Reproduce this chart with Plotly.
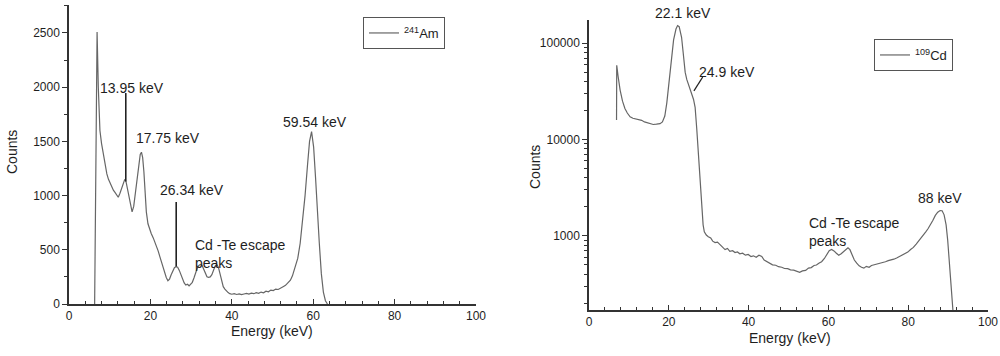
import math
import plotly.graph_objects as go

# ---------------- data ----------------
# 241Am spectrum (left)
am_energy = [6.3, 6.6, 6.9, 7.2, 7.6, 8.0, 8.4, 8.8, 9.3, 9.7, 10.1, 10.5, 10.9, 11.3, 11.7, 12.1,
             12.5, 12.9, 13.3, 13.7, 14.0, 14.3, 14.7, 15.1, 15.5, 15.9, 16.3, 16.7, 17.1, 17.5, 17.8,
             18.1, 18.4, 18.7, 19.0, 19.4, 19.8, 20.2, 20.7, 21.1, 21.5, 21.9, 22.3, 22.7, 23.1, 23.5,
             23.9, 24.3, 24.7, 25.1, 25.5, 25.9, 26.3, 26.7, 27.1, 27.5, 27.9, 28.3, 28.7, 29.1, 29.5,
             29.9, 30.3, 30.7, 31.1, 31.5, 31.9, 32.3, 32.7, 33.1, 33.5, 33.9, 34.3, 34.7, 35.1, 35.5,
             35.9, 36.3, 36.7, 37.1, 37.5, 37.9, 38.3, 38.7, 39.1, 39.5, 40.0, 40.6, 41.2, 41.8, 42.4,
             43.0, 43.6, 44.2, 44.8, 45.4, 46.0, 46.6, 47.2, 47.8, 48.4, 49.0, 49.6, 50.2, 50.8, 51.4,
             52.0, 52.6, 53.2, 53.8, 54.4, 54.9, 55.5, 56.2, 56.8, 57.4, 58.0, 58.6, 59.1, 59.6, 60.1,
             60.6, 61.0, 61.5, 62.0, 62.5, 63.0, 63.5]
am_counts = [0, 1500, 2510, 2000, 1600, 1480, 1390, 1300, 1200, 1150, 1110, 1085, 1050, 1030, 1000, 985,
             1020, 1070, 1120, 1150, 1130, 1070, 980, 900, 850, 900, 1030, 1180, 1300, 1380, 1400,
             1350, 1220, 1030, 850, 740, 690, 650, 610, 575, 540, 490, 440, 385, 335, 285,
             245, 215, 230, 270, 310, 335, 345, 340, 310, 270, 225, 195, 175, 182, 168,
             180, 200, 240, 290, 330, 355, 365, 355, 320, 280, 252, 245, 250, 270, 310,
             350, 365, 340, 280, 210, 160, 138, 120, 105, 95, 90, 96, 88, 94, 86,
             92, 98, 92, 100, 95, 104, 98, 110, 104, 118, 112, 128, 124, 138, 134,
             150, 160, 172, 195, 220, 260, 330, 420, 560, 760, 1000, 1280, 1500, 1590, 1450,
             1150, 850, 560, 280, 110, 30, 0]

# 109Cd spectrum (right)
cd_energy = [6.9, 6.95, 7.3, 7.8, 8.4, 9.0, 9.6, 10.3, 11.0, 11.9, 12.6, 13.2, 13.9, 14.5, 15.3, 16.1,
             16.9, 17.8, 18.4, 19.0, 19.5, 19.9, 20.3, 20.7, 21.2, 21.8, 22.2, 22.6, 23.2, 23.6, 24.1,
             24.5, 24.9, 25.3, 25.7, 26.2, 26.6, 27.0, 27.4, 27.9, 28.3, 28.6, 28.9, 29.4, 29.9, 30.5,
             31.0, 31.6, 32.2, 32.8, 33.4, 34.1, 34.7, 35.3, 36.0, 36.6, 37.2, 37.8, 38.5, 39.2, 39.9,
             40.6, 41.2, 41.9, 42.6, 43.3, 43.9, 44.6, 45.3, 46.0, 46.8, 47.5, 48.3, 49.0, 49.8, 50.5,
             51.3, 52.0, 52.8, 53.5, 54.3, 55.0, 55.7, 56.4, 57.0, 57.7, 58.3, 59.0, 59.6, 60.2, 60.8,
             61.4, 62.0, 62.6, 63.2, 63.8, 64.4, 64.9, 65.4, 65.9, 66.5, 67.1, 67.7, 68.3, 68.9, 69.5,
             70.2, 70.8, 71.5, 72.2, 72.9, 73.6, 74.3, 75.0, 75.7, 76.4, 77.1, 77.8, 78.5, 79.2, 79.9,
             80.6, 81.3, 82.0, 82.6, 83.2, 83.8, 84.4, 85.0, 85.6, 86.2, 86.8, 87.4, 88.0, 88.5, 89.0,
             89.5, 89.9, 90.3, 90.7, 91.0, 91.3]
cd_counts = [15900, 59000, 45000, 32600, 25000, 21000, 18800, 17200, 16600, 16200, 16000, 15800, 15200,
             14900, 14500, 14300, 14400, 14600, 15200, 17500, 24000, 35000, 55000, 78000, 108000, 140000,
             152000, 148000, 115000, 80000, 50000, 42000, 38000, 34000, 30000, 26000, 21500, 13000, 7200,
             3800, 2000, 1300, 1100, 1020, 980, 950, 880, 850, 860, 810, 780, 720, 740, 690, 700, 670, 680,
             650, 660, 630, 640, 610, 620, 600, 630, 610, 560, 540, 525, 500, 495, 478, 472, 458, 456, 443,
             440, 428, 418, 432, 438, 462, 468, 492, 498, 522, 538, 582, 640, 700, 722, 698, 660, 628, 652,
             690, 732, 752, 718, 640, 560, 520, 488, 472, 462, 482, 472, 492, 500, 508, 518, 532, 538, 552,
             558, 572, 588, 612, 628, 652, 678, 722, 758, 822, 878, 942, 1010, 1100, 1190, 1300, 1450, 1630,
             1760, 1830, 1820, 1650, 1300, 900, 550, 330, 200, 150]

# peak labels
am_labels = ["13.95 keV", "17.75 keV", "26.34 keV", "59.54 keV", "Cd -Te escape<br>peaks"]
am_label_x = [15.5, 24.3, 30.2, 60.4, 30.5]
am_label_y = [1993, 1531, 1052, 1679, 461]
am_label_anchor = ["center", "center", "center", "center", "left"]
am_leader_x = [[13.95, 13.95], [26.34, 26.34]]
am_leader_y = [[1946, 1130], [941, 345]]

cd_labels = ["24.9 keV", "88 keV", "Cd -Te escape<br>peaks"]
cd_label_x = [34.6, 88.0, 54.6]
cd_label_y = [50000, 2480, 1090]
cd_label_anchor = ["center", "center", "left"]
cd_top_label = "22.1 keV"          # sits above the axis top
cd_top_label_x = 23.6
cd_leader_x = [[26.3, 28.5]]
cd_leader_y = [[32000, 44500]]

x_ticks = [0, 20, 40, 60, 80, 100]
am_y_ticks = [0, 500, 1000, 1500, 2000, 2500]
cd_y_ticks = [1000, 10000, 100000]
cd_y_minor = [m * d for d in (100, 1000, 10000, 100000) for m in range(2, 10)]

# ---------------- figure ----------------
FONT = "Liberation Sans, Arial, sans-serif"
CURVE = "#666666"
INK = "#1e1e1e"
AXIS = "#333333"

fig = go.Figure()
fig.add_trace(go.Scatter(x=am_energy, y=am_counts, mode="lines", name="<sup>241</sup>Am",
                         line=dict(color=CURVE, width=1.2), xaxis="x", yaxis="y", legend="legend"))
fig.add_trace(go.Scatter(x=cd_energy, y=cd_counts, mode="lines", name="<sup>109</sup>Cd",
                         line=dict(color=CURVE, width=1.2), xaxis="x2", yaxis="y2", legend="legend2"))

for lx, ly in zip(am_leader_x, am_leader_y):
    fig.add_trace(go.Scatter(x=lx, y=ly, mode="lines", line=dict(color="#222", width=1.6),
                             showlegend=False, hoverinfo="skip", xaxis="x", yaxis="y"))
for lx, ly in zip(cd_leader_x, cd_leader_y):
    fig.add_trace(go.Scatter(x=lx, y=ly, mode="lines", line=dict(color="#222", width=1.3),
                             showlegend=False, hoverinfo="skip", xaxis="x2", yaxis="y2"))

annotations = []
for t, x, y, a in zip(am_labels, am_label_x, am_label_y, am_label_anchor):
    annotations.append(dict(text=t, x=x, y=y, xref="x", yref="y", showarrow=False,
                            xanchor=a, yanchor="middle", align="left",
                            font=dict(family=FONT, size=14, color=INK)))
for t, x, y, a in zip(cd_labels, cd_label_x, cd_label_y, cd_label_anchor):
    annotations.append(dict(text=t, x=x, y=math.log10(y), xref="x2", yref="y2", showarrow=False,
                            xanchor=a, yanchor="middle", align="left",
                            font=dict(family=FONT, size=14, color=INK)))
annotations.append(dict(text=cd_top_label, x=cd_top_label_x, y=1 - 13 / 356, xref="x2", yref="paper",
                        showarrow=False, xanchor="center", yanchor="middle",
                        font=dict(family=FONT, size=14, color=INK)))
# axis titles
title_font = dict(family=FONT, size=14, color=INK)
annotations += [
    dict(text="Counts", x=12 / 1000, y=1 - 152 / 356, xref="paper", yref="paper", textangle=-90,
         xanchor="center", yanchor="middle", showarrow=False, font=title_font),
    dict(text="Energy (keV)", x=0.272, y=1 - 331 / 356, xref="paper", yref="paper",
         xanchor="center", yanchor="middle", showarrow=False, font=title_font),
    dict(text="Counts", x=0.535, y=1 - 167 / 356, xref="paper", yref="paper", textangle=-90,
         xanchor="center", yanchor="middle", showarrow=False, font=title_font),
    dict(text="Energy (keV)", x=0.79, y=1 - 338 / 356, xref="paper", yref="paper",
         xanchor="center", yanchor="middle", showarrow=False, font=title_font),
]

xaxis_common = dict(range=[0, 100], tickvals=x_ticks, ticks="inside", ticklen=5, tickwidth=1.3,
                    tickcolor=AXIS, showline=True, linecolor=AXIS, linewidth=1.5, showgrid=False,
                    zeroline=False, tickfont=dict(family=FONT, size=12, color=INK),
                    minor=dict(dtick=4, ticks="inside", ticklen=3, tickcolor=AXIS, tickwidth=1,
                               showgrid=False))

legend_common = dict(xanchor="left", yanchor="top", bgcolor="white", bordercolor="#555",
                     borderwidth=1, font=dict(family=FONT, size=13, color=INK), itemwidth=30,
                     tracegroupgap=0)

fig.update_layout(
    width=1000, height=356, margin=dict(l=0, r=0, t=0, b=0, autoexpand=False),
    paper_bgcolor="white", plot_bgcolor="white",
    font=dict(family=FONT, color=INK),
    xaxis=dict(domain=[0.069, 0.476], anchor="y", **xaxis_common),
    yaxis=dict(domain=[52 / 356, 351 / 356], anchor="x", range=[0, 2758], tickvals=am_y_ticks,
               ticks="outside", ticklen=5, tickwidth=1.3, tickcolor=AXIS, showline=True,
               linecolor=AXIS, linewidth=1.5, showgrid=False, zeroline=False,
               tickfont=dict(family=FONT, size=12, color=INK),
               minor=dict(dtick=250, ticks="outside", ticklen=3, tickcolor=AXIS, tickwidth=1,
                          showgrid=False)),
    xaxis2=dict(domain=[0.589, 0.988], anchor="y2", **xaxis_common),
    yaxis2=dict(domain=[46 / 356, 336 / 356], anchor="x2", type="log", range=[2.23, 5.24],
                tickvals=cd_y_ticks, ticktext=["1000", "10000", "100000"],
                ticks="outside", ticklen=5, tickwidth=1.3, tickcolor=AXIS, showline=True,
                linecolor=AXIS, linewidth=1.5, showgrid=False, zeroline=False,
                tickfont=dict(family=FONT, size=12, color=INK),
                minor=dict(tickvals=cd_y_minor, ticks="outside", ticklen=3, tickcolor=AXIS,
                           tickwidth=1, showgrid=False)),
    legend=dict(x=0.363, y=1 - 17 / 356, **legend_common),
    legend2=dict(x=0.874, y=1 - 39 / 356, **legend_common),
    annotations=annotations,
    showlegend=True,
)

fig.write_html("out.html", config={"displayModeBar": False},
               post_script="document.body.style.margin='0';document.body.style.overflow='hidden';")
